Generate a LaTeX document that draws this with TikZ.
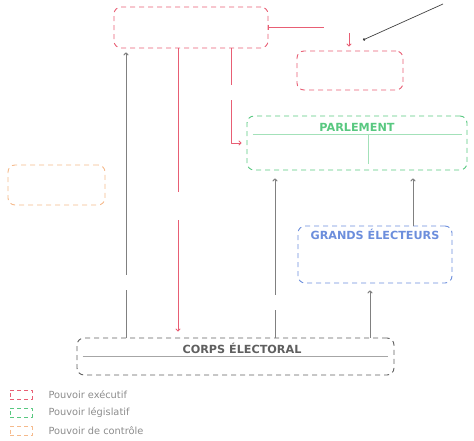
\documentclass[tikz,border=0pt]{standalone}
\usepackage{fontspec}
\setmainfont{DejaVu Sans}
\usetikzlibrary{arrows.meta}
\usetikzlibrary{calc}

\definecolor{exec}{RGB}{232,94,116}
\definecolor{legis}{RGB}{88,200,128}
\definecolor{elect}{RGB}{108,142,220}
\definecolor{ctrl}{RGB}{245,186,140}
\definecolor{corpsgray}{RGB}{95,95,95}
\definecolor{linkgray}{RGB}{128,128,128}
\definecolor{legendgray}{RGB}{140,140,140}

\begin{document}
\begin{tikzpicture}[x=1pt, y=-1pt, line join=round,
  box/.style={draw, dashed, dash pattern=on 5pt off 4pt, rounded corners=7pt,
    line width=0.9pt, inner sep=0pt},
  title/.style={font=\fontsize{11.2}{13}\selectfont\bfseries},
  link/.style={draw=linkgray, line width=1pt, -{To[length=3pt,width=5pt]}},
  redlink/.style={draw=exec, line width=0.9pt, -{To[length=3pt,width=5pt]}},
  gap/.style={fill=white, inner sep=0pt, minimum width=8pt},
  legendbox/.style={draw, dashed, dash pattern=on 4pt off 3pt, line width=0.8pt,
    minimum width=22pt, minimum height=9pt, inner sep=0pt},
  legendtext/.style={text=legendgray, anchor=west, font=\fontsize{9.8}{11}\selectfont}]
  \useasboundingbox (0,0) rectangle (474,441);

  % boxes
  \node[box, draw=exec, minimum width=154pt, minimum height=41pt] (exec) at (191,27.5) {};
  \node[box, draw=exec, minimum width=106pt, minimum height=39pt] (gov) at (350,70.5) {};
  \node[box, draw=legis, minimum width=220pt, minimum height=54pt] (parl) at (357,143) {};
  \node[box, draw=ctrl, minimum width=97pt, minimum height=40pt] (ctrl) at (56.5,185) {};
  \node[box, draw=elect, minimum width=154pt, minimum height=57pt] (grands) at (375,254.5) {};
  \node[box, draw=corpsgray, minimum width=317pt, minimum height=37pt] (corps) at (235.5,356.5) {};

  % titles and rules
  \node[title, text=legis] (parltitle) at (357,127) {PARLEMENT};
  \draw[legis!55, line width=0.7pt] ($(parl.west)+(6,-9)$) -- ($(parl.east)+(-5,-9)$);
  \draw[legis!55, line width=0.7pt] ($(parl.north)+(11,18)$) -- ($(parl.south)+(11,-6)$);
  \node[title, text=elect] (grandstitle) at (375,234) {GRANDS ÉLECTEURS};
  \node[title, text=corpsgray] (corpstitle) at (242,348) {CORPS ÉLECTORAL};
  \draw[linkgray!70, line width=0.7pt] ($(corps.west)+(6,0)$) -- ($(corps.east)+(-6,0)$);

  % connectors
  \draw[redlink, {Bar[width=5pt]}-{To[length=3pt,width=5pt]}, shorten >=4pt]
    (exec.east) -| node[gap, minimum width=50pt, minimum height=12pt] (g1) {} ([xshift=-1pt]gov.north);
  \coordinate (notefrom) at (443,4);
  \coordinate (noteto) at (363,40);
  \draw[black!75, line width=0.7pt, -{Circle[length=2.5pt]}] (notefrom) -- (noteto);
  \draw[redlink, shorten >=6pt] ([xshift=-13pt]exec.south)
    -- node[gap, pos=0.545, minimum height=28pt] (g2) {} ([xshift=-13pt]exec.south |- corps.north);
  \draw[redlink, shorten >=5pt] ([xshift=40pt]exec.south)
    |- node[gap, pos=0.234, minimum height=15pt] (g3) {} (parl.west);
  \draw[link, shorten >=4pt] ([xshift=-65pt]exec.south |- corps.north)
    -- node[gap, pos=0.19, minimum height=15pt] (g4) {} ([xshift=-65pt]exec.south);
  \draw[link, shorten >=8pt] ([xshift=-82pt]parl.south |- corps.north)
    -- node[gap, pos=0.21, minimum height=15pt] (g5) {} ([xshift=-82pt]parl.south);
  \draw[link, shorten >=8pt] ([xshift=38pt]grands.north) -- ([xshift=38pt]grands.north |- parl.south);
  \draw[link, shorten >=7pt] ([xshift=-5pt]grands.south |- corps.north) -- ([xshift=-5pt]grands.south);

  % legend
  \node[legendbox, draw=exec] (lexec) at (21,394.5) {};
  \node[legendbox, draw=legis] (llegis) at (21,412.5) {};
  \node[legendbox, draw=ctrl] (lctrl) at (21,431) {};
  \node[legendtext] (texec) at (45,395) {Pouvoir exécutif};
  \node[legendtext] (tlegis) at (45,413) {Pouvoir législatif};
  \node[legendtext] (tctrl) at (45,431) {Pouvoir de contrôle};
\end{tikzpicture}
\end{document}
